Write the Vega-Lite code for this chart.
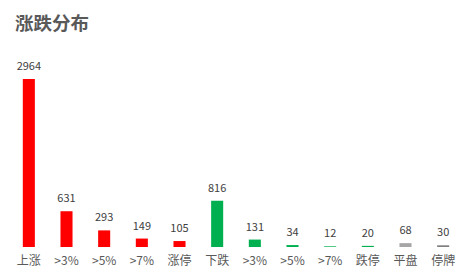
{
  "$schema": "https://vega.github.io/schema/vega-lite/v6.json",
  "autosize": "none",
  "width": 452,
  "height": 198,
  "padding": {"left": 10, "top": 49, "right": 1, "bottom": 27},
  "background": "white",
  "title": {
    "text": "涨跌分布",
    "anchor": "start",
    "font": "Noto Sans CJK SC",
    "fontSize": 18.5,
    "fontWeight": "bold",
    "color": "#595959",
    "dx": 5,
    "offset": 16
  },
  "data": {
    "values": [
      {"k": "01|上涨", "v": 2964, "g": "up"},
      {"k": "02|>3%", "v": 631, "g": "up"},
      {"k": "03|>5%", "v": 293, "g": "up"},
      {"k": "04|>7%", "v": 149, "g": "up"},
      {"k": "05|涨停", "v": 105, "g": "up"},
      {"k": "06|下跌", "v": 816, "g": "down"},
      {"k": "07|>3%", "v": 131, "g": "down"},
      {"k": "08|>5%", "v": 34, "g": "down"},
      {"k": "09|>7%", "v": 12, "g": "down"},
      {"k": "10|跌停", "v": 20, "g": "down"},
      {"k": "11|平盘", "v": 68, "g": "flat"},
      {"k": "12|停牌", "v": 30, "g": "halt"}
    ]
  },
  "encoding": {
    "x": {
      "field": "k",
      "type": "nominal",
      "sort": null,
      "scale": {"paddingInner": 0.68, "paddingOuter": 0.34},
      "axis": {
        "title": null,
        "labelAngle": 0,
        "labelExpr": "split(datum.label, '|')[1]",
        "domain": false,
        "ticks": false,
        "labelPadding": 8,
        "labelFont": "Noto Sans CJK SC",
        "labelFontSize": 12,
        "labelColor": "#595959"
      }
    },
    "y": {
      "field": "v",
      "type": "quantitative",
      "scale": {"domain": [0, 3493]},
      "axis": null
    }
  },
  "layer": [
    {
      "mark": {"type": "bar"},
      "encoding": {
        "color": {
          "field": "g",
          "type": "nominal",
          "scale": {"domain": ["up", "down", "flat", "halt"], "range": ["#FF0000", "#00B050", "#A6A6A6", "#808080"]},
          "legend": null
        }
      }
    },
    {
      "mark": {"type": "text", "baseline": "bottom", "dy": -7, "font": "Noto Sans CJK SC", "fontSize": 11, "color": "#404040"},
      "encoding": {"text": {"field": "v", "type": "quantitative"}}
    }
  ],
  "config": {"view": {"stroke": null}}
}
